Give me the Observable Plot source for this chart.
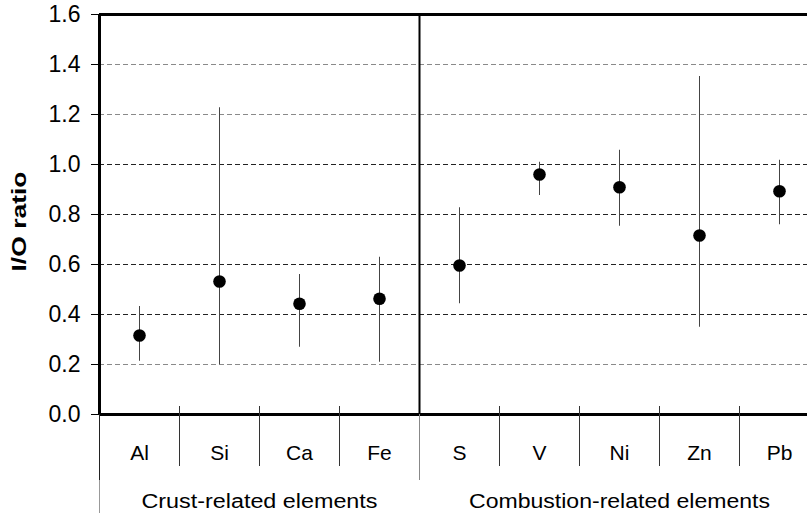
<!DOCTYPE html>
<html>
<head>
<meta charset="utf-8">
<script src="https://cdn.jsdelivr.net/npm/d3@7"></script>
<script src="https://cdn.jsdelivr.net/npm/@observablehq/plot@0.6"></script>
<style>
  html, body { margin: 0; padding: 0; background: white; overflow: hidden; }
  #chart svg { overflow: hidden; }
  #chart svg g[aria-label="y-axis tick label"] text { font-size: 23px; }
  #chart svg g[aria-label="x-axis tick label"] text { font-size: 21px; }
</style>
</head>
<body>
<div id="chart"></div>
<script>
// ---- data ----
const categories = ["Al", "Si", "Ca", "Fe", "S", "V", "Ni", "Zn", "Pb"];
const groupOf = [0, 0, 0, 0, 1, 1, 1, 1, 1];
const groupNames = ["Crust-related elements", "Combustion-related elements"];
const ratio = [0.316, 0.532, 0.443, 0.463, 0.596, 0.960, 0.909, 0.716, 0.893];
const lower = [0.213, 0.199, 0.269, 0.209, 0.443, 0.876, 0.753, 0.349, 0.759];
const upper = [0.432, 1.227, 0.560, 0.629, 0.827, 1.009, 1.057, 1.352, 1.017];
const yTicks = [0, 0.2, 0.4, 0.6, 0.8, 1.0, 1.2, 1.4, 1.6];
const yLabel = "I/O ratio";

// ---- derived tables ----
const rows = categories.map((c, i) => ({cat: c, i, v: ratio[i], lo: lower[i], hi: upper[i], g: groupOf[i]}));
const idx = rows.map(d => d.i);
const groups = groupNames.map((name, g) => {
  const members = rows.filter(d => d.g === g).map(d => d.i);
  return {name, first: d3.min(members), last: d3.max(members), center: d3.mean(members)};
});
const catSeps = rows.filter(d => d.i !== groups[d.g].first).map(d => d.i - 0.5);
const groupStarts = groups.map(g => g.first - 0.5);
const gridVals = yTicks.slice(1, -1);
const gridColor = v => (v === 0.2 || v >= 1.2) ? "#8a8a8a" : "#222";

const W = 807, H = 515;
const mL = 99, mT = 14, mB = 101;
const plotH = H - mT - mB;
const bandW = 80;

const plot = Plot.plot({
  width: W,
  height: H,
  marginLeft: mL,
  marginTop: mT,
  marginBottom: mB,
  marginRight: 0,
  style: {fontFamily: "'Liberation Sans', Arial, sans-serif", fontSize: "20px", color: "black", background: "white"},
  x: {type: "linear", domain: [-0.5, categories.length - 0.5], range: [mL, mL + bandW * categories.length]},
  y: {domain: [0, 1.6]},
  marks: [
    Plot.ruleY(gridVals, {y: d => d, stroke: gridColor, strokeWidth: 1, strokeDasharray: "5,3"}),
    Plot.ruleX(rows, {x: "i", y1: "lo", y2: "hi", stroke: "#444", strokeWidth: 1}),
    Plot.dot(rows, {x: "i", y: "v", r: 6.3, fill: "black", stroke: "none"}),
    Plot.ruleY([1.6], {stroke: "black", strokeWidth: 3}),
    Plot.ruleY([0], {stroke: "black", strokeWidth: 3}),
    Plot.ruleX([groupStarts[0]], {stroke: "black", strokeWidth: 3}),
    Plot.ruleX(groupStarts.slice(1), {stroke: "black", strokeWidth: 2}),
    Plot.ruleX(catSeps, {stroke: "#333", strokeWidth: 1, insetTop: plotH - 8, insetBottom: -52}),
    Plot.ruleX([groupStarts[0]], {stroke: "#222", strokeWidth: 1, insetTop: plotH, insetBottom: -66}),
    Plot.ruleX([groupStarts[0]], {stroke: "#999", strokeWidth: 1, insetTop: plotH + 66, insetBottom: -99}),
    Plot.ruleX(groupStarts.slice(1), {stroke: "#888", strokeWidth: 1, insetTop: plotH, insetBottom: -66}),
    Plot.axisY({ticks: yTicks, tickFormat: d3.format(".1f"), tickSize: 8, tickPadding: 11, label: null, stroke: "black"}),
    Plot.axisX({ticks: idx, tickFormat: i => categories[i], tickSize: 0, tickPadding: 31, label: null}),
    Plot.text([yLabel], {frameAnchor: "left", textAnchor: "middle", dx: -80, dy: 7, rotate: -90, fontWeight: "bold", fontSize: 21, fill: "black"}),
    Plot.text(groups, {x: "center", text: "name", frameAnchor: "bottom", dy: 93, fontSize: 20, fill: "black"})
  ]
});
document.getElementById("chart").appendChild(plot);

// widen the wide-set labels to the reference's measured lengths
const stretch = {"Crust-related elements": 236, "Combustion-related elements": 301, "I/O ratio": 100};
d3.select(plot).selectAll("text").each(function () {
  const t = this.textContent.trim();
  if (stretch[t]) d3.select(this).attr("textLength", stretch[t]).attr("lengthAdjust", "spacingAndGlyphs");
});
</script>
</body>
</html>
